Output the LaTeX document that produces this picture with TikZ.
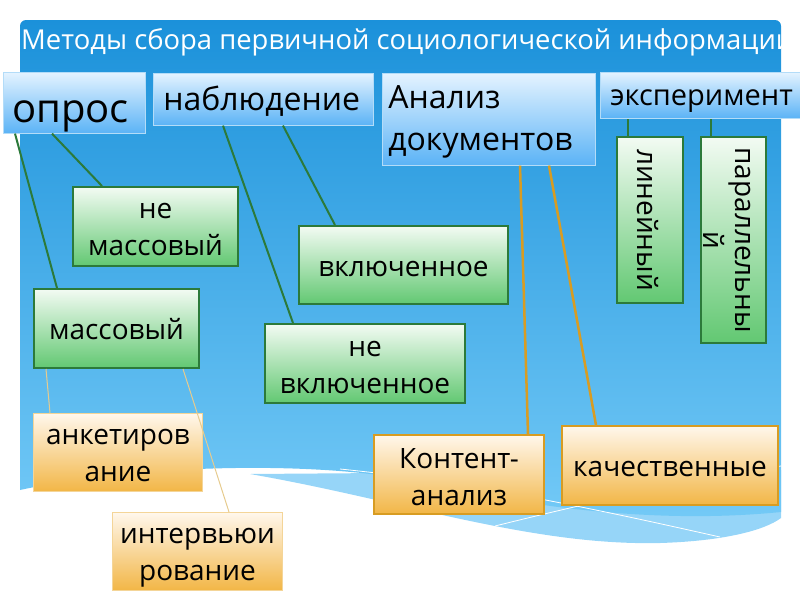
\documentclass[tikz,border=0pt]{standalone}
\usepackage{fontspec}
\setmainfont{Open Sans}
\usetikzlibrary{positioning, calc}
\definecolor{SkyTop}{HTML}{1B91DA}
\definecolor{SkyLow}{HTML}{74CAF7}
\definecolor{SkyBand}{HTML}{96D5F8}
\definecolor{CapTop}{HTML}{E4F3FF}
\definecolor{CapLow}{HTML}{5BB3F6}
\definecolor{CapEdge}{HTML}{B3DCF8}
\definecolor{LeafInk}{HTML}{2C7A3A}
\definecolor{LeafTop}{HTML}{F3FBF3}
\definecolor{LeafLow}{HTML}{62C872}
\definecolor{AmberInk}{HTML}{D89C22}
\definecolor{AmberTop}{HTML}{FFF7EC}
\definecolor{AmberLow}{HTML}{F2B646}
\definecolor{AmberThin}{HTML}{F4D598}
\definecolor{AmberWire}{HTML}{E6CB8E}

\begin{document}
\begin{tikzpicture}[
    x=1pt, y=-1pt,
    font=\fontsize{28}{37}\selectfont,
    head/.style={
      anchor=north west,
      inner ysep=0pt,
      draw=CapEdge,
      line width=0.6pt,
      top color=CapTop,
      bottom color=CapLow,
      align=left,
    },
    leaf/.style={
      anchor=north west,
      inner sep=0pt,
      draw=LeafInk,
      line width=2pt,
      top color=LeafTop,
      bottom color=LeafLow,
      align=center,
    },
    amber/.style={
      anchor=north west,
      inner sep=0pt,
      draw=AmberInk,
      line width=2pt,
      top color=AmberTop,
      bottom color=AmberLow,
      align=center,
    },
    amberlight/.style={amber, draw=AmberThin, line width=1pt},
    twig/.style={draw=LeafInk, line width=2pt},
    amberwire/.style={draw=AmberInk, line width=2.5pt},
    thinwire/.style={draw=AmberWire, line width=1pt},
  ]
    \useasboundingbox (0,0) rectangle (800,600);
    \fill[SkyBand] (250,474) .. controls (400,500) and (530,546) .. (660,543)
      .. controls (725,541) and (765,530) .. (781,518) -- (781,470) -- cycle;
    \path[top color=SkyTop, bottom color=SkyLow]
      (20,490) [rounded corners=6pt] -- (20,20) -- (781,20) [sharp corners]
      -- (781,512) .. controls (650,525) and (520,505) .. (420,482)
      .. controls (330,462) and (150,462) .. (20,490) -- cycle;
    \draw[white, line width=0.8pt] (340,469) .. controls (470,482) and (600,510) .. (720,537);
    \draw[white, line width=0.8pt] (495,526) .. controls (600,500) and (700,478) .. (781,466);

    \node[anchor=base west, inner sep=0pt, text=white,
      font=\fontsize{27.4}{34}\selectfont] (caption) at (21,49)
      {Методы сбора первичной социологической информации};

    \node[head, inner xsep=9pt, text width=124pt, text height=50pt, text depth=11pt,
      font=\fontsize{40}{48}\selectfont] (opros) at (3,72) {опрос};
    \node[head, inner xsep=10pt, text width=200pt, text height=37pt, text depth=15pt,
      font=\fontsize{32}{38}\selectfont] (nablyud) at (153,73) {наблюдение};
    \node[head, inner xsep=6pt, text width=201pt, text height=35pt, text depth=57pt,
      font=\fontsize{32}{42}\selectfont] (analiz) at (382,73) {Анализ\\документов};
    \node[head, inner xsep=10pt, text width=200pt, text height=33pt, text depth=13pt,
      font=\fontsize{29}{36}\selectfont] (eksper) at (600,72) {эксперимент};

    \node[leaf, text width=165pt, text height=31pt, text depth=48pt] (nemass) at (72,186) {не\\массовый};
    \node[leaf, text width=165pt, text height=50pt, text depth=29pt] (mass) at (33,288) {массовый};
    \node[leaf, text width=209pt, text height=50pt, text depth=28pt] (vkl) at (298,225) {включенное};
    \node[leaf, text width=200pt, text height=32pt, text depth=47pt] (nevkl) at (264,323) {не\\включенное};
    \node[leaf, anchor=center, rotate=-90, text width=166pt,
      text height=46pt, text depth=20pt] (linear) at (650,220) {линейный};
    \node[leaf, anchor=center, rotate=-90, text width=206pt,
      text height=31pt, text depth=34pt, font=\fontsize{28}{32}\selectfont] (parallel) at (733.5,240) {параллельны\\й};

    \node[amberlight, text width=169pt, text height=31pt, text depth=47pt] (anket) at (33,413) {анкетиров\\ание};
    \node[amberlight, text width=170pt, text height=31pt, text depth=47pt] (interv) at (112,512) {интервьюи\\рование};
    \node[amber, text width=170pt, text height=33pt, text depth=46pt] (kontent) at (373,434) {Контент-\\анализ};
    \node[amber, text width=216pt, text height=50pt, text depth=29pt] (kachest) at (561,425) {качественные};

    \draw[twig] ([xshift=12pt]opros.south west) -- ([xshift=24pt]mass.north west);
    \draw[twig] ([xshift=49pt]opros.south west) -- ([xshift=30pt]nemass.north west);
    \draw[twig] ([xshift=70pt]nablyud.south west) -- ([xshift=29pt]nevkl.north west);
    \draw[twig] ([xshift=130pt]nablyud.south west) -- ([xshift=37pt]vkl.north west);
    \draw[twig] ([xshift=12pt]linear.south west) -- ([xshift=12pt]linear.south west |- eksper.south);
    \draw[twig] ([xshift=11pt]parallel.south west) -- ([xshift=11pt]parallel.south west |- eksper.south);
    \draw[amberwire] ([xshift=138pt]analiz.south west) -- ([xshift=155pt]kontent.north west);
    \draw[amberwire] ([xshift=167pt]analiz.south west) -- ([xshift=35pt]kachest.north west);
    \draw[thinwire] ([xshift=13pt]mass.south west) -- ([xshift=17pt]anket.north west);
    \draw[thinwire] ([xshift=150pt]mass.south west) -- ([xshift=117pt]interv.north west);
  \end{tikzpicture}
\end{document}
